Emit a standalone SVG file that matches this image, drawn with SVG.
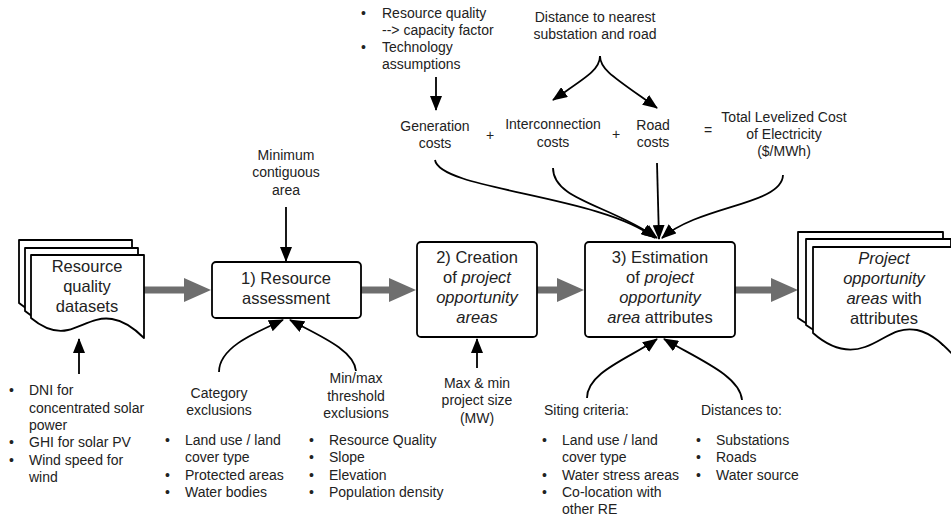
<svg xmlns="http://www.w3.org/2000/svg" width="951" height="520" viewBox="0 0 951 520">
<style>
text{font-family:"Liberation Sans",Arial,sans-serif;fill:#222;}
.l{font-size:14px;}
.b{font-size:16.5px;}
.m{text-anchor:middle;}
.i{font-style:italic;}
.box{fill:#fff;stroke:#000;stroke-width:1.8;}
.doc{fill:#fff;stroke:#000;stroke-width:1.8;stroke-linejoin:round;}
.c{fill:none;stroke:#000;stroke-width:1.8;marker-end:url(#ah);}
.g{fill:none;stroke:#6e6e6e;stroke-width:7;marker-end:url(#gh);}
</style>
<defs>
<marker id="ah" markerUnits="userSpaceOnUse" markerWidth="15" markerHeight="12" refX="14" refY="6" orient="auto" viewBox="0 0 15 12"><path d="M0,0 L15,6 L0,12 z" fill="#000"/></marker>
<marker id="gh" markerUnits="userSpaceOnUse" markerWidth="27" markerHeight="24" refX="0" refY="12" orient="auto" viewBox="0 0 27 24"><path d="M0,0 L27,12 L0,24 z" fill="#6e6e6e"/></marker>
</defs>

<g id="connectors">
<line class="g" x1="144" y1="290" x2="184" y2="290"/>
<line class="g" x1="361" y1="290" x2="389" y2="290"/>
<line class="g" x1="537" y1="290" x2="557" y2="290"/>
<line class="g" x1="735" y1="290" x2="771" y2="290"/>
<path class="c" d="M79,374 V339"/>
<path class="c" d="M286,207 V261"/>
<path class="c" d="M219,372 C219,348 252,334 283,320"/>
<path class="c" d="M356,371 C354,350 320,336 290,320"/>
<path class="c" d="M477,368 V339"/>
<path class="c" d="M587,398 C587,372 630,358 657,339"/>
<path class="c" d="M742,400 C740,376 700,360 664,339"/>
<path class="c" d="M436,77 V110"/>
<path class="c" d="M600,56 C600,70 585,78 553,100"/>
<path class="c" d="M600,56 C600,70 615,78 657,108"/>
<path class="c" d="M435,160 C440,190 600,195 655,238"/>
<path class="c" d="M553,168 C553,200 610,205 657,238"/>
<path class="c" d="M657,163 L659,239"/>
<path class="c" d="M783,175 C782,205 700,205 662,238"/>
</g>

<g id="resource-quality-datasets">
<path class="doc" d="M19,240 H132 V323 C124,315 113,306 100,304 C83,301 70,312 56,315 C43,318 31,313 19,303 Z"/>
<path class="doc" d="M25,248 H138 V331 C130,323 119,314 106,312 C89,309 76,320 62,323 C49,326 37,321 25,311 Z"/>
<path class="doc" d="M31,255 H144 V338 C136,330 125,321 112,319 C95,316 82,327 68,330 C55,333 43,328 31,318 Z"/>
<text class="b m" x="87" y="272">Resource</text>
<text class="b m" x="87" y="292">quality</text>
<text class="b m" x="87" y="312">datasets</text>
</g>

<g id="resource-assessment">
<rect class="box" x="212" y="262" width="149" height="56" rx="4"/>
<text class="b m" x="286" y="284">1) Resource</text>
<text class="b m" x="286" y="304">assessment</text>
</g>

<g id="creation">
<rect class="box" x="417" y="242" width="120" height="95" rx="4"/>
<text class="b m" x="477" y="263">2) Creation</text>
<text class="b m" x="477" y="283">of <tspan class="i">project</tspan></text>
<text class="b m i" x="477" y="303">opportunity</text>
<text class="b m i" x="477" y="323">areas</text>
</g>

<g id="estimation">
<rect class="box" x="585" y="242" width="150" height="95" rx="4"/>
<text class="b m" x="660" y="263">3) Estimation</text>
<text class="b m" x="660" y="283">of <tspan class="i">project</tspan></text>
<text class="b m i" x="660" y="303">opportunity</text>
<text class="b m" x="660" y="323"><tspan class="i">area</tspan> attributes</text>
</g>

<g id="project-opportunity-areas">
<path class="doc" d="M798,232 H943 V345 C933,335 920,319 902,315 C880,311 870,325 850,332 C833,336 815,330 798,318 Z"/>
<path class="doc" d="M806,239 H951 V352 C941,342 928,326 910,322 C888,318 878,332 858,339 C841,343 823,337 806,325 Z"/>
<path class="doc" d="M813,247 H958 V360 C948,350 935,334 917,330 C895,326 885,340 865,347 C848,353 830,348 813,333 Z"/>
<text class="b m i" x="884" y="264">Project</text>
<text class="b m i" x="884" y="284">opportunity</text>
<text class="b m" x="884" y="304"><tspan class="i">areas</tspan> with</text>
<text class="b m" x="884" y="324">attributes</text>
</g>

<g id="minimum-area">
<text class="l m" x="286" y="160">Minimum</text>
<text class="l m" x="286" y="177">contiguous</text>
<text class="l m" x="286" y="195">area</text>
</g>

<g id="dataset-list">
<text class="l" x="9" y="395">•</text><text class="l" x="29" y="395">DNI for</text>
<text class="l" x="29" y="413">concentrated solar</text>
<text class="l" x="29" y="430">power</text>
<text class="l" x="9" y="447">•</text><text class="l" x="29" y="447">GHI for solar PV</text>
<text class="l" x="9" y="465">•</text><text class="l" x="29" y="465">Wind speed for</text>
<text class="l" x="29" y="482">wind</text>
</g>

<g id="category-exclusions">
<text class="l m" x="219" y="398">Category</text>
<text class="l m" x="219" y="415">exclusions</text>
<text class="l" x="165" y="445">•</text><text class="l" x="185" y="445">Land use / land</text>
<text class="l" x="185" y="462">cover type</text>
<text class="l" x="165" y="480">•</text><text class="l" x="185" y="480">Protected areas</text>
<text class="l" x="165" y="497">•</text><text class="l" x="185" y="497">Water bodies</text>
</g>

<g id="threshold-exclusions">
<text class="l m" x="356" y="383">Min/max</text>
<text class="l m" x="356" y="401">threshold</text>
<text class="l m" x="356" y="418">exclusions</text>
<text class="l" x="309" y="445">•</text><text class="l" x="329" y="445">Resource Quality</text>
<text class="l" x="309" y="462">•</text><text class="l" x="329" y="462">Slope</text>
<text class="l" x="309" y="480">•</text><text class="l" x="329" y="480">Elevation</text>
<text class="l" x="309" y="497">•</text><text class="l" x="329" y="497">Population density</text>
</g>

<g id="project-size">
<text class="l m" x="477" y="388">Max &amp; min</text>
<text class="l m" x="477" y="405">project size</text>
<text class="l m" x="477" y="423">(MW)</text>
</g>

<g id="siting-criteria">
<text class="l" x="544" y="415">Siting criteria:</text>
<text class="l" x="542" y="445">•</text><text class="l" x="562" y="445">Land use / land</text>
<text class="l" x="562" y="462">cover type</text>
<text class="l" x="542" y="480">•</text><text class="l" x="562" y="480">Water stress areas</text>
<text class="l" x="542" y="497">•</text><text class="l" x="562" y="497">Co-location with</text>
<text class="l" x="562" y="514">other RE</text>
</g>

<g id="distances">
<text class="l" x="701" y="415">Distances to:</text>
<text class="l" x="696" y="445">•</text><text class="l" x="716" y="445">Substations</text>
<text class="l" x="696" y="462">•</text><text class="l" x="716" y="462">Roads</text>
<text class="l" x="696" y="480">•</text><text class="l" x="716" y="480">Water source</text>
</g>

<g id="generation-inputs">
<text class="l" x="361" y="18">•</text><text class="l" x="382" y="18">Resource quality</text>
<text class="l" x="382" y="35">--&gt; capacity factor</text>
<text class="l" x="361" y="52">•</text><text class="l" x="382" y="52">Technology</text>
<text class="l" x="382" y="69">assumptions</text>
</g>

<g id="distance-nearest">
<text class="l m" x="595" y="22">Distance to nearest</text>
<text class="l m" x="595" y="39">substation and road</text>
</g>

<g id="generation-costs">
<text class="l m" x="435" y="131">Generation</text>
<text class="l m" x="435" y="148">costs</text>
</g>
<text class="l m" x="490" y="140">+</text>
<g id="interconnection-costs">
<text class="l m" x="553" y="129">Interconnection</text>
<text class="l m" x="553" y="147">costs</text>
</g>
<text class="l m" x="616" y="139">+</text>
<g id="road-costs">
<text class="l m" x="653" y="130">Road</text>
<text class="l m" x="653" y="147">costs</text>
</g>
<text class="l m" x="708" y="135">=</text>
<g id="total-lcoe">
<text class="l m" x="784" y="122">Total Levelized Cost</text>
<text class="l m" x="784" y="139">of Electricity</text>
<text class="l m" x="784" y="156">($/MWh)</text>
</g>
</svg>
